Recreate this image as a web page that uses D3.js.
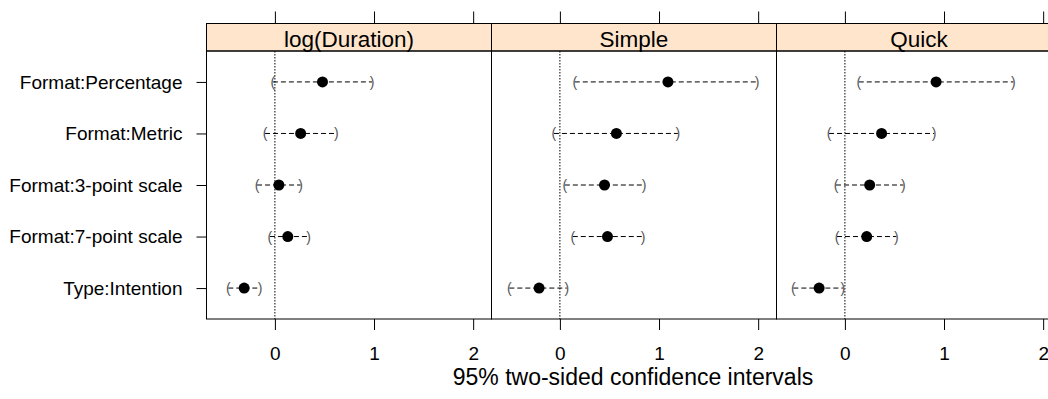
<!DOCTYPE html>
<html>
<head>
<meta charset="utf-8">
<script src="https://cdn.jsdelivr.net/npm/d3@7"></script>
<style>
  body { margin: 0; background: #fff; }
  svg { display: block; font-family: "Liberation Sans", Arial, Helvetica, sans-serif; }
  .axis .domain { display: none; }
  .axis line { stroke: #000; }
</style>
</head>
<body>
<svg id="ci_svg" width="1048" height="399"></svg>
<script>
// Panels (strip titles) and model terms
var conditions = ["log(Duration)", "Simple", "Quick"];
var terms = ["Format:Percentage", "Format:Metric", "Format:3-point scale", "Format:7-point scale", "Type:Intention"];
var xTicks = [0, 1, 2];
var xLabel = "95% two-sided confidence intervals";

// Estimates with lower / upper bounds, one set per panel
var durationEst = [0.48, 0.26, 0.04, 0.13, -0.31];
var durationLwr = [-0.02, -0.10, -0.18, -0.05, -0.47];
var durationUpr = [0.98, 0.62, 0.26, 0.34, -0.15];

var simpleEst = [1.09, 0.57, 0.45, 0.48, -0.21];
var simpleLwr = [0.15, -0.06, 0.05, 0.13, -0.51];
var simpleUpr = [1.99, 1.19, 0.85, 0.84, 0.07];

var quickEst = [0.92, 0.37, 0.25, 0.22, -0.26];
var quickLwr = [0.14, -0.16, -0.09, -0.08, -0.52];
var quickUpr = [1.70, 0.90, 0.59, 0.52, -0.02];

var panelData = [
    { est: durationEst, lwr: durationLwr, upr: durationUpr },
    { est: simpleEst, lwr: simpleLwr, upr: simpleUpr },
    { est: quickEst, lwr: quickLwr, upr: quickUpr }
];

document.addEventListener("DOMContentLoaded", function() {
    var svg = d3.select("#ci_svg");

    // Layout
    var panelLeft = 206.5;
    var panelW = 285;
    var stripTop = 23.5;
    var stripBottom = 51;
    var panelBottom = 319;

    var yScale = d3.scalePoint()
        .domain(terms)
        .range([stripBottom, panelBottom])
        .padding(0.6);

    conditions.forEach(function(cond, i) {
        var left = panelLeft + i * panelW;
        var d = panelData[i];
        var xScale = d3.scaleLinear()
            .domain([-0.69, 2.185])
            .range([left, left + panelW]);

        var g = svg.append("g").attr("class", "panel");

        // strip
        g.append("rect")
            .attr("x", left).attr("y", stripTop)
            .attr("width", panelW).attr("height", stripBottom - stripTop)
            .attr("fill", "#ffe5cc").attr("stroke", "#000").attr("stroke-width", 1);
        g.append("text")
            .attr("x", left + panelW / 2).attr("y", 47)
            .attr("text-anchor", "middle")
            .style("font-size", "22.5px")
            .text(cond);

        // panel box
        g.append("rect")
            .attr("x", left).attr("y", stripBottom)
            .attr("width", panelW).attr("height", panelBottom - stripBottom)
            .attr("fill", "none").attr("stroke", "#000").attr("stroke-width", 1);

        // reference line at 0
        g.append("line")
            .attr("x1", xScale(0)).attr("x2", xScale(0))
            .attr("y1", stripBottom).attr("y2", panelBottom)
            .attr("stroke", "#000").attr("stroke-width", 1)
            .attr("stroke-dasharray", "1.5,1.5");

        // bottom axis with labels
        g.append("g")
            .attr("class", "axis")
            .attr("transform", "translate(0," + panelBottom + ")")
            .call(d3.axisBottom(xScale).tickValues(xTicks).tickSize(11).tickPadding(17).tickFormat(d3.format("d")))
            .selectAll("text")
            .attr("fill", "#000")
            .style("font-size", "19px");

        // top axis, ticks only
        g.append("g")
            .attr("class", "axis")
            .attr("transform", "translate(0," + stripTop + ")")
            .call(d3.axisTop(xScale).tickValues(xTicks).tickSize(12).tickFormat(""));

        // intervals
        var rows = terms.map(function(t, k) {
            return { term: t, est: d.est[k], lwr: d.lwr[k], upr: d.upr[k] };
        });

        g.selectAll(".ci").data(rows).enter().append("line")
            .attr("x1", r => xScale(r.lwr)).attr("x2", r => xScale(r.upr))
            .attr("y1", r => yScale(r.term)).attr("y2", r => yScale(r.term))
            .attr("stroke", "#000").attr("stroke-width", 1)
            .attr("stroke-dasharray", "5,3");

        g.selectAll(".lo").data(rows).enter().append("text")
            .attr("x", r => xScale(r.lwr)).attr("y", r => yScale(r.term) + 5)
            .attr("text-anchor", "middle")
            .attr("fill", "#555")
            .style("font-size", "14px")
            .text("(");

        g.selectAll(".hi").data(rows).enter().append("text")
            .attr("x", r => xScale(r.upr)).attr("y", r => yScale(r.term) + 5)
            .attr("text-anchor", "middle")
            .attr("fill", "#555")
            .style("font-size", "14px")
            .text(")");

        g.selectAll(".pt").data(rows).enter().append("circle")
            .attr("cx", r => xScale(r.est)).attr("cy", r => yScale(r.term))
            .attr("r", 5.5)
            .attr("fill", "#000");
    });

    // left axis on first panel
    svg.append("g")
        .attr("class", "axis")
        .attr("transform", "translate(" + panelLeft + ",0)")
        .call(d3.axisLeft(yScale).tickSize(10).tickPadding(14))
        .selectAll("text")
        .attr("fill", "#000")
        .style("font-size", "19px");

    // x label
    svg.append("text")
        .attr("x", 633).attr("y", 385)
        .attr("text-anchor", "middle")
        .style("font-size", "23px")
        .text(xLabel);
});
</script>
</body>
</html>
